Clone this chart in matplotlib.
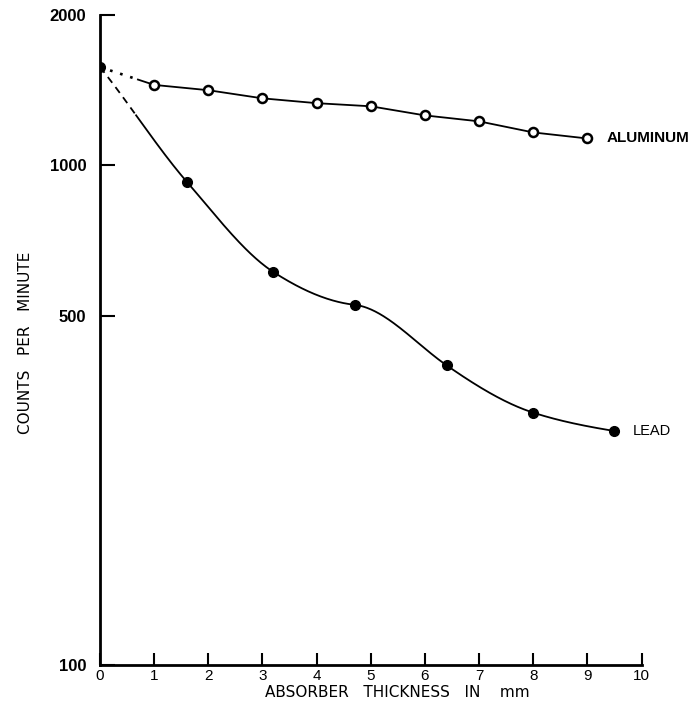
import numpy as np
import matplotlib
matplotlib.use("Agg")
import matplotlib.pyplot as plt

# data
alum_x = [0.0, 1.0, 2.0, 3.0, 4.0, 5.0, 6.0, 7.0, 8.0, 9.0]
alum_y = [1573, 1449, 1414, 1362, 1332, 1313, 1259, 1225, 1164, 1132]
lead_x = [0.0, 1.6, 3.2, 4.7, 6.4, 8.0, 9.5]
lead_y = [1573, 928, 612, 526, 398, 320, 294]
# tangent of the hand-drawn lead curve at each reading (log10 counts per mm)
lead_slope = [-0.135, -0.125, -0.07, -0.012, -0.075, -0.035, -0.018]
y_ticks = [100, 500, 1000, 2000]
x_ticks = [0, 1, 2, 3, 4, 5, 6, 7, 8, 9, 10]


def hermite(x, y, m, xs):
    x = np.asarray(x, float)
    y = np.asarray(y, float)
    m = np.asarray(m, float)
    out = np.empty_like(xs)
    for k, xv in enumerate(xs):
        i = min(max(np.searchsorted(x, xv) - 1, 0), len(x) - 2)
        h = x[i + 1] - x[i]
        t = (xv - x[i]) / h
        h00 = 2 * t**3 - 3 * t**2 + 1
        h10 = t**3 - 2 * t**2 + t
        h01 = -2 * t**3 + 3 * t**2
        h11 = t**3 - t**2
        out[k] = h00 * y[i] + h10 * h * m[i] + h01 * y[i + 1] + h11 * h * m[i + 1]
    return out


fig = plt.figure(figsize=(6.96, 7.06), dpi=100)
ax = fig.add_axes([0.1437, 0.058, 0.778, 0.9208])
ax.set_yscale("log")
ax.set_xlim(0, 10)
ax.set_ylim(100, 2000)

lw = 1.3
# lead: smooth curve, dashed near the origin
xs = np.linspace(lead_x[0], lead_x[-1], 500)
ys = 10 ** hermite(lead_x, np.log10(lead_y), lead_slope, xs)
cut = 0.65
ax.plot(xs[xs <= cut], ys[xs <= cut], color="black", lw=lw, ls=(0, (4, 3)))
ax.plot(xs[xs >= cut], ys[xs >= cut], color="black", lw=lw)
ax.plot(lead_x, lead_y, "o", color="black", ms=7)

# aluminum: dotted to first reading, then straight segments
a0x = alum_x[0] + 0.7 * (alum_x[1] - alum_x[0])
a0y = 10 ** (np.log10(alum_y[0]) + 0.7 * (np.log10(alum_y[1]) - np.log10(alum_y[0])))
ax.plot([alum_x[0], a0x], [alum_y[0], a0y], color="black", lw=lw + 0.6, ls=(0, (1, 3)))
ax.plot([a0x] + alum_x[1:], [a0y] + alum_y[1:], color="black", lw=lw)
ax.plot(alum_x[1:], alum_y[1:], "o", mfc="white", mec="black", mew=1.8, ms=6.5)

ax.text(9.35, alum_y[-1], "ALUMINUM", fontsize=11, fontweight="bold",
        va="center", ha="left", family="Liberation Sans")
ax.text(9.83, lead_y[-1], "LEAD", fontsize=10.5, va="center", ha="left",
        family="Liberation Sans")

for s in ["top", "right"]:
    ax.spines[s].set_visible(False)
for s in ["left", "bottom"]:
    ax.spines[s].set_linewidth(2)

ax.set_yticks(y_ticks)
ax.set_yticklabels([str(v) for v in y_ticks], fontsize=12, fontweight="bold",
                   family="Liberation Sans")
ax.yaxis.set_minor_locator(matplotlib.ticker.NullLocator())
ax.set_xticks(x_ticks)
ax.set_xticklabels([str(v) for v in x_ticks], fontsize=11, family="Liberation Sans")
ax.tick_params(axis="y", direction="in", length=11, width=1.5, pad=10)
ax.tick_params(axis="x", direction="in", length=9, width=1.5, pad=3)

ax.set_xlabel("ABSORBER   THICKNESS   IN    mm", fontsize=11, family="DejaVu Sans")
ax.xaxis.set_label_coords(0.549, -0.03)
ax.set_ylabel("COUNTS   PER   MINUTE", fontsize=11, family="DejaVu Sans")
ax.yaxis.set_label_coords(-0.124, 0.495)

fig.savefig("out.png", dpi=100)
